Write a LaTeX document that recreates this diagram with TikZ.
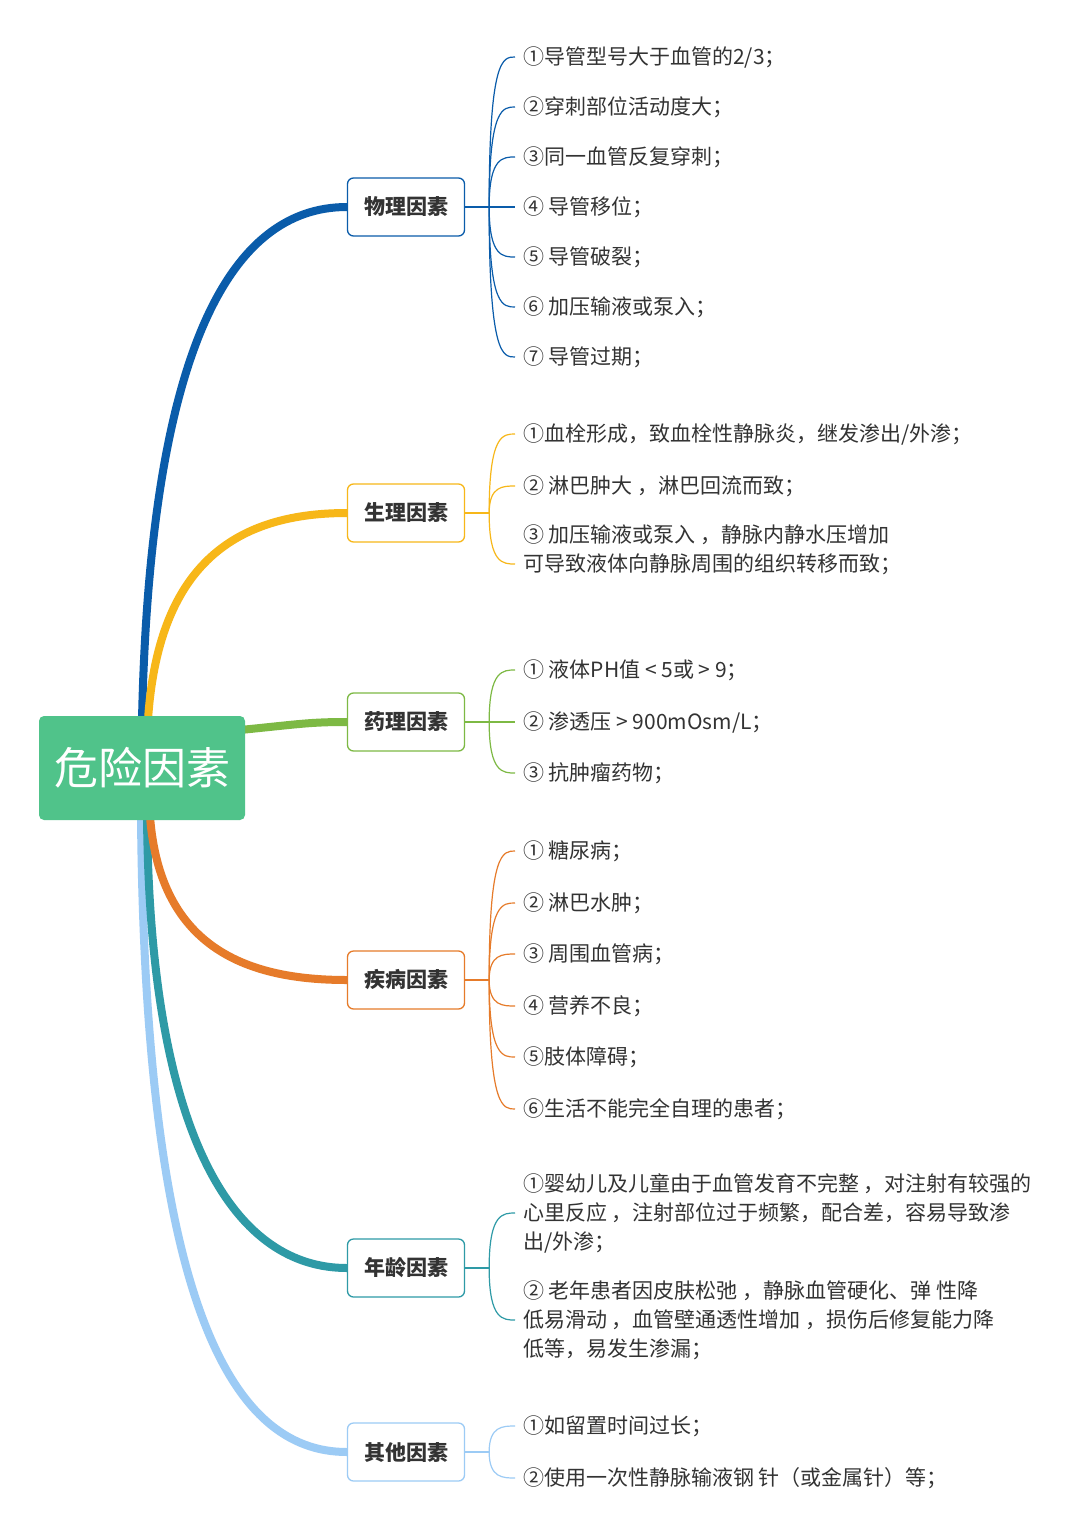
\documentclass[tikz,border=0pt]{standalone}
\usepackage{fontspec}
\newfontfamily\cjk{Noto Sans CJK SC}
\usetikzlibrary{backgrounds}
\definecolor{rootgreen}{RGB}{80,195,138}
\definecolor{txtgray}{RGB}{51,51,51}
\definecolor{wlblue}{RGB}{10,92,170}
\definecolor{wlyellow}{RGB}{247,183,25}
\definecolor{wlgreen}{RGB}{125,185,68}
\definecolor{wlorange}{RGB}{230,123,42}
\definecolor{wlteal}{RGB}{46,154,166}
\definecolor{wlsky}{RGB}{156,203,245}
\begin{document}
\begin{tikzpicture}[x=1pt,y=-1pt,
    root/.style={rectangle,rounded corners=5pt,fill=rootgreen,text=white,minimum width=206pt,minimum height=104pt,font=\cjk\fontsize{44}{50}\selectfont},
    topic/.style={rectangle,rounded corners=6pt,draw=#1,line width=1.3pt,fill=white,minimum width=117pt,minimum height=58pt,text=txtgray,font=\cjk\bfseries\fontsize{21}{25}\selectfont},
    leaf/.style={anchor=west,inner xsep=8pt,inner ysep=0pt,align=left,text=txtgray,font=\cjk\fontsize{21}{29}\selectfont},
    trunk/.style={line width=8pt,draw=#1},
    twig/.style={line width=1.2pt,draw=#1} ]
    \useasboundingbox (0,0) rectangle (1080,1536);
    \node at (142,768) [root] (root) {危险因素};
    \node at (406,207) [topic=wlblue] (wuli) {物理因素};
    \node at (406,513) [topic=wlyellow] (shengli) {生理因素};
    \node at (406,722) [topic=wlgreen] (yaoli) {药理因素};
    \node at (406,980) [topic=wlorange] (jibing) {疾病因素};
    \node at (406,1268) [topic=wlteal] (nianling) {年龄因素};
    \node at (406,1452) [topic=wlsky] (qita) {其他因素};
    \begin{scope}[on background layer]
    \fill[white] (0,0) rectangle (1080,1536);
    \draw[trunk=wlblue] ([yshift=-4pt]root.north) .. controls (150,350) and (230,207) .. (wuli.west);
    \draw[trunk=wlyellow] ([xshift=6pt,yshift=-4pt]root.north) .. controls (158,570) and (230,513) .. (shengli.west);
    \draw[trunk=wlgreen] ([xshift=-5pt,yshift=38pt]root.east) .. controls (300,724) and (310,722) .. (yaoli.west);
    \draw[trunk=wlsky] ([xshift=-1pt,yshift=4pt]root.south) .. controls (145,1300) and (230,1452) .. (qita.west);
    \draw[trunk=wlteal] ([xshift=5pt,yshift=4pt]root.south) .. controls (150,1150) and (240,1268) .. (nianling.west);
    \draw[trunk=wlorange] ([xshift=8pt,yshift=4pt]root.south) .. controls (160,950) and (250,980) .. (jibing.west);
    \end{scope}
    % 物理因素
    \coordinate (wj) at ([xshift=24pt]wuli.east);
    \node at (515,57) [leaf] (w1) {①导管型号大于血管的2/3；};
    \node at (515,107) [leaf] (w2) {②穿刺部位活动度大；};
    \node at (515,157) [leaf] (w3) {③同一血管反复穿刺；};
    \node at (515,207) [leaf] (w4) {④ 导管移位；};
    \node at (515,257) [leaf] (w5) {⑤ 导管破裂；};
    \node at (515,307) [leaf] (w6) {⑥ 加压输液或泵入；};
    \node at (515,357) [leaf] (w7) {⑦ 导管过期；};
    \draw[twig=wlblue] (wuli.east) -- (wj);
    \draw[twig=wlblue] (wj) .. controls (wj |- w1.west) and +(-12,0) .. (w1.west);
    \draw[twig=wlblue] (wj) .. controls (wj |- w2.west) and +(-12,0) .. (w2.west);
    \draw[twig=wlblue] (wj) .. controls (wj |- w3.west) and +(-12,0) .. (w3.west);
    \draw[twig=wlblue] (wj) -- (w4.west);
    \draw[twig=wlblue] (wj) .. controls (wj |- w5.west) and +(-12,0) .. (w5.west);
    \draw[twig=wlblue] (wj) .. controls (wj |- w6.west) and +(-12,0) .. (w6.west);
    \draw[twig=wlblue] (wj) .. controls (wj |- w7.west) and +(-12,0) .. (w7.west);
    % 生理因素
    \coordinate (sj) at ([xshift=24pt]shengli.east);
    \node at (515,434) [leaf] (s1) {①血栓形成，致血栓性静脉炎，继发渗出/外渗；};
    \node at (515,486) [leaf] (s2) {② 淋巴肿大 ，淋巴回流而致；};
    \node at (515,550) [leaf] (s3) {③ 加压输液或泵入 ，静脉内静水压增加\\可导致液体向静脉周围的组织转移而致；};
    \coordinate (s3e) at ([yshift=-14pt]s3.west);
    \draw[twig=wlyellow] (shengli.east) -- (sj);
    \draw[twig=wlyellow] (sj) .. controls (sj |- s1.west) and +(-12,0) .. (s1.west);
    \draw[twig=wlyellow] (sj) .. controls (sj |- s2.west) and +(-12,0) .. (s2.west);
    \draw[twig=wlyellow] (sj) .. controls (sj |- s3e) and +(-12,0) .. (s3e);
    % 药理因素
    \coordinate (yj) at ([xshift=24pt]yaoli.east);
    \node at (515,670) [leaf] (y1) {① 液体PH值 < 5或 > 9；};
    \node at (515,722) [leaf] (y2) {② 渗透压 > 900mOsm/L；};
    \node at (515,773) [leaf] (y3) {③ 抗肿瘤药物；};
    \draw[twig=wlgreen] (yaoli.east) -- (yj);
    \draw[twig=wlgreen] (yj) .. controls (yj |- y1.west) and +(-12,0) .. (y1.west);
    \draw[twig=wlgreen] (yj) -- (y2.west);
    \draw[twig=wlgreen] (yj) .. controls (yj |- y3.west) and +(-12,0) .. (y3.west);
    % 疾病因素
    \coordinate (jj) at ([xshift=24pt]jibing.east);
    \node at (515,851) [leaf] (j1) {① 糖尿病；};
    \node at (515,903) [leaf] (j2) {② 淋巴水肿；};
    \node at (515,954) [leaf] (j3) {③ 周围血管病；};
    \node at (515,1006) [leaf] (j4) {④ 营养不良；};
    \node at (515,1057) [leaf] (j5) {⑤肢体障碍；};
    \node at (515,1109) [leaf] (j6) {⑥生活不能完全自理的患者；};
    \draw[twig=wlorange] (jibing.east) -- (jj);
    \draw[twig=wlorange] (jj) .. controls (jj |- j1.west) and +(-12,0) .. (j1.west);
    \draw[twig=wlorange] (jj) .. controls (jj |- j2.west) and +(-12,0) .. (j2.west);
    \draw[twig=wlorange] (jj) .. controls (jj |- j3.west) and +(-12,0) .. (j3.west);
    \draw[twig=wlorange] (jj) .. controls (jj |- j4.west) and +(-12,0) .. (j4.west);
    \draw[twig=wlorange] (jj) .. controls (jj |- j5.west) and +(-12,0) .. (j5.west);
    \draw[twig=wlorange] (jj) .. controls (jj |- j6.west) and +(-12,0) .. (j6.west);
    % 年龄因素
    \coordinate (nj) at ([xshift=24pt]nianling.east);
    \node at (515,1213) [leaf] (n1) {①婴幼儿及儿童由于血管发育不完整 ，对注射有较强的\\心里反应 ，注射部位过于频繁，配合差，容易导致渗\\出/外渗；};
    \node at (515,1320) [leaf] (n2) {② 老年患者因皮肤松弛 ，静脉血管硬化、弹 性降\\低易滑动 ，血管壁通透性增加 ，损伤后修复能力降\\低等，易发生渗漏；};
    \draw[twig=wlteal] (nianling.east) -- (nj);
    \draw[twig=wlteal] (nj) .. controls (nj |- n1.west) and +(-12,0) .. (n1.west);
    \draw[twig=wlteal] (nj) .. controls (nj |- n2.west) and +(-12,0) .. (n2.west);
    % 其他因素
    \coordinate (qj) at ([xshift=24pt]qita.east);
    \node at (515,1426) [leaf] (q1) {①如留置时间过长；};
    \node at (515,1478) [leaf] (q2) {②使用一次性静脉输液钢 针（或金属针）等；};
    \draw[twig=wlsky] (qita.east) -- (qj);
    \draw[twig=wlsky] (qj) .. controls (qj |- q1.west) and +(-12,0) .. (q1.west);
    \draw[twig=wlsky] (qj) .. controls (qj |- q2.west) and +(-12,0) .. (q2.west);
\end{tikzpicture}
\end{document}
